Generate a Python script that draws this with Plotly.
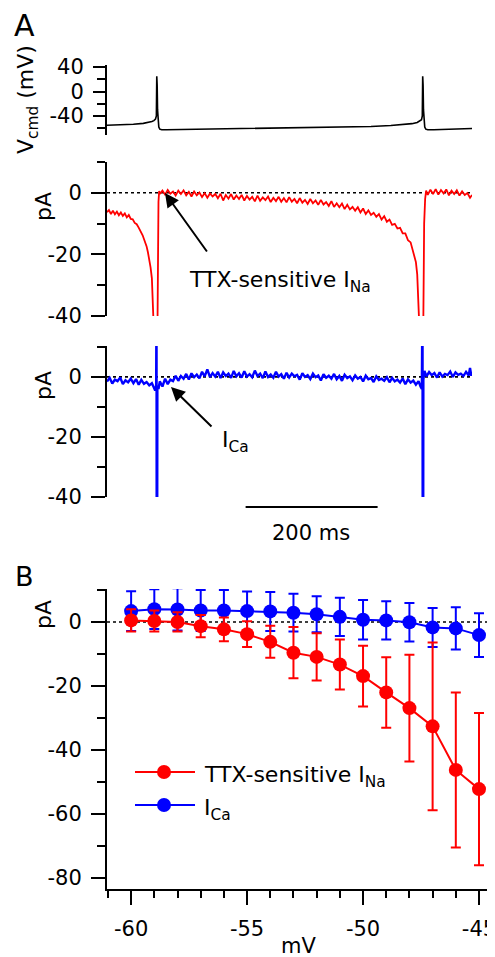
import plotly.graph_objects as go

# page body has an 8px margin: the figure is drawn 8px in from the window's top-left corner
PAGE_OFFSET = 8
WIN_W, WIN_H = 495, 957
W, H = WIN_W - PAGE_OFFSET, WIN_H - PAGE_OFFSET
FONT = "DejaVu Sans"

# ---------------- Panel A data (time in ms) ----------------
vcmd_t = [0, 20, 40, 55, 63, 68, 71, 73.5, 74.8, 75.4, 76.0, 76.6, 77.5, 78.5, 80, 83, 90,
          120, 160, 200, 250, 300, 350, 400, 430, 450, 462, 470, 474, 476.5, 477.7,
          478.3, 478.9, 479.5, 480.4, 481.4, 483, 486, 495, 520, 553]
vcmd_mv = [-55, -54.5, -53.5, -52, -50.5, -49, -47.5, -45, -40, 25, 10, -30, -50, -58, -61.5, -62.5, -62.5,
           -62, -61.5, -61, -60.5, -59.5, -58.5, -57, -55.5, -54, -52.5, -50.5, -48.5, -46, -40,
           25, 10, -30, -50, -58, -61.5, -62.5, -62.5, -61.5, -60.5]

ina_t = [0, 3, 6, 9, 12, 15, 18, 21, 24, 27, 30, 33, 36, 39, 42, 45, 48, 51, 54, 56, 58, 60, 62, 64,
         66, 68, 69.5, 71, 72.5, 74.5, 76, 77, 78, 79, 80,
         84, 88, 92, 96, 100, 104, 108, 112, 116, 120, 124, 128, 132, 136, 140, 144, 148, 152, 156,
         160, 164, 168, 172, 176, 180, 184, 188, 192, 196, 200, 204, 208, 212, 216, 220, 224, 228,
         232, 236, 240, 244, 248, 252, 256, 260, 264, 268, 272, 276, 280, 284, 288, 292, 296, 300,
         304, 308, 312, 316, 320, 324, 328, 332, 336, 340, 344, 348, 352, 356, 360, 364, 368, 372,
         376, 380, 384, 388, 392, 396, 400, 404, 408, 412, 416, 420, 424, 428, 432, 436, 440, 444,
         448, 452, 456, 460, 464, 468,
         470, 472, 473.5, 475, 477.5, 479, 480.5, 482, 483.5, 486, 490, 494, 498, 502, 506, 510,
         514, 518, 522, 526, 530, 534, 538, 542, 546, 550, 553]
ina_pa = [-6.3, -5.6, -6.9, -5.8, -7.0, -6.1, -7.3, -6.4, -7.5, -6.7, -8.0, -7.2, -8.5, -8.6, -9.8,
          -10.2, -11.3, -12.4, -13.8, -15.0, -16.1, -17.4, -19.3, -21.3, -24.2, -27.8, -33.0, -45.0,
          -150, -150, -45, -12, -3, 0.6, -0.4,
          0.7, -0.6, 0.9, -0.3, 0.4, -0.9, 0.7, -0.4, 0.8, -0.8, 0.3, -1.2, 0.4, -0.8, 0.1, -1.4,
          -0.1, -1.6, -0.2, -1.2, -0.4, -1.8, -0.3, -2.5, -0.7, -1.9, -0.4, -2.2, -0.9, -2.0, -0.7,
          -2.5, -1.0, -2.2, -1.3, -2.8, -0.9, -2.6, -1.5, -2.4, -1.2, -3.0, -1.6, -2.7, -1.3, -2.9,
          -1.7, -3.1, -1.4, -2.9, -2.0, -3.4, -1.7, -3.2, -2.3, -3.6, -2.0, -3.4, -2.5, -3.9, -2.3,
          -3.8, -3.0, -4.3, -2.7, -4.6, -3.4, -4.7, -3.5, -5.3, -3.9, -5.4, -4.6, -5.8, -4.7, -6.4,
          -5.1, -6.9, -5.7, -7.2, -6.5, -7.8, -6.9, -8.7, -7.6, -9.4, -8.7, -10.4, -10.1, -11.6,
          -11.4, -13.2, -13.2, -15.4, -16.1, -19.4, -22.5,
          -26.5, -33.0, -45.0, -150, -150, -45, -10, -2, 0.7, -0.7, 1.0, -0.4, 1.2, -0.6, 0.9, -0.2,
          1.1, -0.8, 0.7, -0.4, 0.8, -0.9, 0.5, -0.7, -0.1, -1.6, -0.7]

ica_t = [0, 4, 8, 12, 16, 20, 24, 28, 32, 36, 40, 44, 48, 52, 56, 60, 64, 68, 71, 73, 74.5, 75.0,
         75.6, 76.3, 78, 80, 84, 88, 92, 96, 100, 104, 108, 112, 116, 120, 124, 128, 132, 136, 140,
         144, 148, 152, 156, 160, 164, 168, 172, 176, 180, 184, 188, 192, 196, 200, 204, 208, 212,
         216, 220, 224, 228, 232, 236, 240, 244, 248, 252, 256, 260, 264, 268, 272, 276, 280, 284,
         288, 292, 296, 300, 304, 308, 312, 316, 320, 324, 328, 332, 336, 340, 344, 348, 352, 356,
         360, 364, 368, 372, 376, 380, 384, 388, 392, 396, 400, 404, 408, 412, 416, 420, 424, 428,
         432, 436, 440, 444, 448, 452, 456, 460, 464, 468, 472, 475, 477, 478, 478.6, 479.3, 481,
         484, 488, 492, 496, 500, 504, 508, 512, 516, 520, 524, 528, 532, 536, 540, 544, 548, 550,
         552, 553]
ica_pa = [-1.5, -0.3, -2.2, -0.9, -1.4, -0.2, -2.4, -1.1, -1.8, -0.6, -2.1, -0.7, -2.6, -1.0, -2.3,
          -1.7, -2.8, -2.1, -3.5, -4.5, -3.0, 30, -150, -3.0, -4.0, -1.5, -3.2, -0.6, -2.4, -0.9,
          -1.4, 0.4, -1.3, 0.3, -0.6, 1.0, -0.9, 1.2, -0.1, 0.8, -0.5, 1.7, 0.2, 2.5, -0.1, 1.3,
          0.1, 1.7, -0.4, 1.5, 0.3, 1.1, -0.3, 2.0, 0.2, 1.2, -0.2, 1.9, 0.1, 0.9, -0.1, 2.1, 0.3,
          1.1, -0.4, 1.8, 0.0, 0.8, -0.3, 1.7, 0.1, 0.9, -0.6, 1.4, -0.2, 1.1, 0.2, 0.7, -0.9, 1.2,
          0.0, 0.6, -0.7, 1.1, -0.1, 0.5, -1.2, 0.9, -0.3, 0.4, -0.6, 1.0, -0.8, 0.3, -1.3, 0.7,
          -0.4, 0.2, -1.1, 0.5, -0.6, 0.0, -1.5, 0.4, -0.8, -0.4, -1.7, 0.2, -1.0, -0.6, -1.3, -0.1,
          -1.8, -0.3, -1.5, -0.9, -1.9, -0.5, -2.4, -0.8, -1.9, -1.2, -2.6, -1.4, -3.2, -4.0, 30,
          -150, -1.0, 2.0, 0.2, 1.6, 0.6, 1.3, -0.2, 1.5, 0.1, 1.0, 0.6, 1.8, 0.0, 1.5, 0.7, 1.1,
          0.3, 1.7, 0.5, 3.0, 0.4, 1.2]

scalebar_ms = [210, 410]
scalebar_label = "200 ms"

# ---------------- Panel B data ----------------
step_mv = [-60, -59, -58, -57, -56, -55, -54, -53, -52, -51, -50, -49, -48, -47, -46, -45]
ina_mean = [0.5, 0.3, 0.0, -1.3, -2.3, -3.8, -6.2, -9.6, -10.9, -13.3, -16.9, -22.0, -26.9,
            -32.6, -46.2, -52.2]
ina_sem = [3.5, 3.3, 3.0, 3.5, 3.7, 4.0, 5.0, 8.0, 7.4, 7.8, 9.5, 11.0, 16.7, 26.2, 24.2, 23.8]
ica_mean = [3.4, 4.0, 3.9, 3.6, 3.6, 3.4, 3.3, 2.9, 2.4, 1.6, 0.7, 0.5, -0.1, -1.7, -2.0, -4.1]
ica_sem = [6.2, 6.2, 6.6, 6.4, 6.4, 6.1, 6.1, 5.9, 5.6, 6.0, 6.2, 6.0, 6.0, 6.1, 6.6, 6.8]

vcmd_ticks = [-40, 0, 40]
vcmd_ticktext = ["-40", "0", "40"]
pa_ticks_A = [-40, -20, 0]
pa_ticktext_A = ["-40", "-20", "0"]
pa_ticks_B = [-80, -60, -40, -20, 0]
pa_ticktext_B = ["-80", "-60", "-40", "-20", "0"]
mv_ticks_B = [-60, -55, -50, -45]
mv_ticktext_B = ["-60", "-55", "-50", "-45"]

RED = "#ff0000"
BLUE = "#0000ff"


def px(x):
    """window pixel x -> paper fraction"""
    return (x - PAGE_OFFSET) / W


def py(y):
    """window pixel y -> paper fraction"""
    return 1 - (y - PAGE_OFFSET) / H


fig = go.Figure()

fig.add_trace(go.Scatter(x=vcmd_t, y=vcmd_mv, mode="lines", line=dict(color="black", width=1.6),
                         xaxis="x", yaxis="y"))
fig.add_trace(go.Scatter(x=ina_t, y=ina_pa, mode="lines", line=dict(color=RED, width=1.8),
                         xaxis="x", yaxis="y2"))
fig.add_trace(go.Scatter(x=ica_t, y=ica_pa, mode="lines", line=dict(color=BLUE, width=2.4),
                         xaxis="x", yaxis="y3"))

fig.add_trace(go.Scatter(x=step_mv, y=ica_mean, mode="lines+markers",
                         line=dict(color=BLUE, width=2), marker=dict(color=BLUE, size=14),
                         error_y=dict(type="data", array=ica_sem, color=BLUE, thickness=2, width=5),
                         xaxis="x2", yaxis="y4"))
fig.add_trace(go.Scatter(x=step_mv, y=ina_mean, mode="lines+markers",
                         line=dict(color=RED, width=2), marker=dict(color=RED, size=14),
                         error_y=dict(type="data", array=ina_sem, color=RED, thickness=2, width=5),
                         xaxis="x2", yaxis="y4"))

tickfont = dict(family=FONT, size=21, color="black")

common_y = dict(showline=True, linecolor="black", linewidth=2, ticks="outside", ticklen=14,
                tickwidth=2, tickcolor="black", showgrid=False, zeroline=False, fixedrange=True,
                automargin=False, tickfont=tickfont, ticklabelstandoff=5)
minor_y = dict(ticklen=8, tickwidth=2, tickcolor="black", ticks="outside")

fig.update_layout(
    width=W, height=H, margin=dict(l=0, r=0, t=0, b=0, autoexpand=False),
    paper_bgcolor="white", plot_bgcolor="white", showlegend=False,
    font=dict(family=FONT, color="black"),
    xaxis=dict(domain=[px(107), px(472)], range=[0, 553], visible=False, anchor="y3",
               automargin=False),
    yaxis=dict(domain=[py(135), py(65)], range=[-71, 43.3], anchor="x",
               tickvals=vcmd_ticks, ticktext=vcmd_ticktext,
               minor=dict(tickvals=[-60, -20, 20], **minor_y), **{**common_y, "ticklen": 12}),
    yaxis2=dict(domain=[py(316), py(162)], range=[-40, 10], anchor="x",
                tickvals=pa_ticks_A, ticktext=pa_ticktext_A,
                minor=dict(tickvals=[-30, -10, 10], **minor_y), **common_y),
    yaxis3=dict(domain=[py(497), py(346)], range=[-40, 10.3], anchor="x",
                tickvals=pa_ticks_A, ticktext=pa_ticktext_A,
                minor=dict(tickvals=[-30, -10, 10], **minor_y), **common_y),
    xaxis2=dict(domain=[px(107), 1.0], range=[-61.04, -44.31], anchor="y4",
                showline=True, linecolor="black", linewidth=2, ticks="outside", ticklen=14,
                tickwidth=2, tickcolor="black", showgrid=False, zeroline=False, automargin=False,
                tickvals=mv_ticks_B, ticktext=mv_ticktext_B, tickfont=tickfont,
                ticklabeloverflow="allow", ticklabelstandoff=6,
                minor=dict(dtick=1, tick0=-60, ticklen=7, tickwidth=2, tickcolor="black",
                           ticks="outside")),
    yaxis4=dict(domain=[py(889), py(589)], range=[-83.4, 10.3], anchor="x2",
                tickvals=pa_ticks_B, ticktext=pa_ticktext_B,
                minor=dict(tickvals=[-70, -50, -30, -10, 10], **minor_y), **common_y),
)

# dotted zero lines
dot = dict(color="black", width=1.6, dash="dot")
fig.add_shape(type="line", xref="x", yref="y2", x0=0, x1=553, y0=0, y1=0, line=dot, layer="below")
fig.add_shape(type="line", xref="x", yref="y3", x0=0, x1=553, y0=0, y1=0, line=dot, layer="below")
fig.add_shape(type="line", xref="x2", yref="y4", x0=-61.04, x1=-44.6, y0=0, y1=0, line=dot,
              layer="below")

# scale bar
fig.add_shape(type="line", xref="x", yref="paper", x0=scalebar_ms[0], x1=scalebar_ms[1],
              y0=py(507), y1=py(507), line=dict(color="black", width=2))

# legend (manual)
for yy, col in [(772, RED), (805, BLUE)]:
    fig.add_shape(type="line", xref="paper", yref="paper", x0=px(135), x1=px(195), y0=py(yy),
                  y1=py(yy), line=dict(color=col, width=2))
    fig.add_shape(type="circle", xref="paper", yref="paper", x0=px(157), x1=px(171),
                  y0=py(yy + 7), y1=py(yy - 7), fillcolor=col, line=dict(color=col, width=0))

ann = []


def text(x, y, s, size, xanchor="center", angle=0):
    ann.append(dict(x=px(x), y=py(y), xref="paper", yref="paper", text=s, showarrow=False,
                    xanchor=xanchor, yanchor="middle", textangle=angle,
                    font=dict(family=FONT, size=size, color="black")))


text(24, 26, "A", 30)
text(24, 576, "B", 27)
text(27, 100, "V<sub>cmd</sub> (mV)", 22, angle=-90)
text(43, 207, "pA", 22, angle=-90)
text(43, 386, "pA", 22, angle=-90)
text(43, 615, "pA", 22, angle=-90)
text(298, 946, "mV", 21)
text(311, 533, scalebar_label, 21)
text(187, 281, "TTX-sensitive I<sub>Na</sub>", 22, xanchor="left")
text(220, 442, "I<sub>Ca</sub>", 22, xanchor="left")
text(202, 776, "TTX-sensitive I<sub>Na</sub>", 22, xanchor="left")
text(202, 809, "I<sub>Ca</sub>", 22, xanchor="left")

for hx, hy, tx, ty in [(165, 193, 208, 253), (171, 387, 213, 428)]:
    ann.append(dict(x=px(hx), y=py(hy), xref="paper", yref="paper", text="", showarrow=True,
                    ax=tx - hx, ay=ty - hy, arrowhead=2, arrowsize=1.4, arrowwidth=2,
                    arrowcolor="black", standoff=0, startstandoff=0))

fig.update_layout(annotations=ann)

fig.write_html("out.html")
